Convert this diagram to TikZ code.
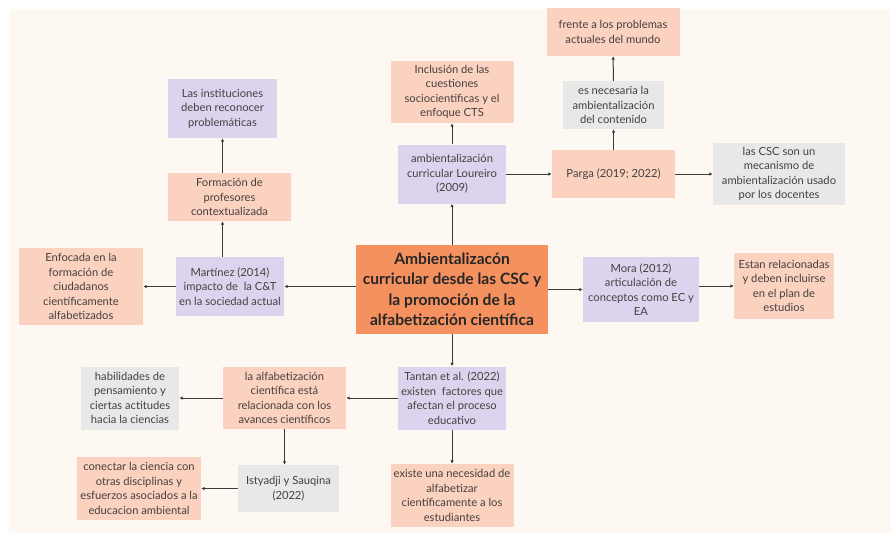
\documentclass[tikz,border=0pt]{standalone}
\usepackage{fontspec}
\setmainfont{Lato}
\usetikzlibrary{arrows.meta,calc}
\definecolor{cream}{HTML}{FDF9F2}
\definecolor{peachc}{HTML}{FBD2BF}
\definecolor{purplec}{HTML}{DED3EE}
\definecolor{grayc}{HTML}{E8E8E8}
\definecolor{centerc}{HTML}{F4915F}
\definecolor{txt}{HTML}{46403F}
\definecolor{linec}{HTML}{3A3A3A}
\begin{document}
\begin{tikzpicture}[x=1pt,y=-1pt,
  box/.style={draw=none, align=center, inner sep=1pt, text=txt,
    font=\fontsize{11.2}{14.5}\selectfont},
  peach/.style={box, fill=peachc},
  purp/.style={box, fill=purplec},
  grey/.style={box, fill=grayc},
  conn/.style={draw=linec, line width=1pt, -{Latex[length=3.5pt,width=3.5pt]}}]
\useasboundingbox (0,0) rectangle (891,533);
\fill[white] (0,0) rectangle (891,533);
\fill[cream] (9,9) rectangle (891,533);

\node[box, fill=centerc, text=black!85, font=\fontsize{15.6}{20.5}\selectfont\bfseries,
  minimum width=192pt, minimum height=89pt] (center) at (452,289.5)
  {Ambientalizacón\\curricular desde las CSC y\\la promoción de la\\alfabetización científica};

\node[purp, minimum width=109pt, minimum height=59pt] (inst) at (222.5,108.5)
  {Las instituciones\\deben reconocer\\problemáticas};
\node[peach, minimum width=123pt, minimum height=48pt] (form) at (229.5,197)
  {Formación de\\profesores\\contextualizada};
\node[peach, minimum width=124pt, minimum height=77pt] (enf) at (81,286.5)
  {Enfocada en la\\formación de\\ciudadanos\\científicamente\\alfabetizados};
\node[purp, minimum width=108pt, minimum height=59pt] (mart) at (230,286.5)
  {Martínez (2014)\\impacto de\ \ la C\&T\\en la sociedad actual};

\node[purp, minimum width=116pt, minimum height=65pt] (mora) at (641,289.5)
  {Mora (2012)\\articulación de\\conceptos como EC y\\EA};
\node[peach, minimum width=100pt, minimum height=66pt] (estan) at (784,286)
  {Estan relacionadas\\y deben incluirse\\en el plan de\\estudios};

\node[peach, minimum width=123pt, minimum height=62pt] (incl) at (452,92)
  {Inclusión de las\\cuestiones\\sociocientificas y el\\enfoque CTS};
\node[purp, minimum width=108pt, minimum height=59pt] (lour) at (452,174)
  {ambientalización\\curricular Loureiro\\(2009)};
\node[peach, minimum width=123pt, minimum height=48pt] (parga) at (613.5,174)
  {Parga (2019; 2022)};
\node[grey, minimum width=101pt, minimum height=48pt] (nec) at (613.5,105)
  {es necesaria la\\ambientalización\\del contenido};
\node[peach, minimum width=133pt, minimum height=48pt] (frente) at (613,32)
  {frente a los problemas\\actuales del mundo};
\node[grey, minimum width=132pt, minimum height=62pt] (csc) at (779,174)
  {las CSC son un\\mecanismo de\\ambientalización usado\\por los docentes};

\node[purp, minimum width=108pt, minimum height=63pt] (tantan) at (452,398)
  {Tantan et al. (2022)\\existen\ \ factores que\\afectan el proceso\\educativo};
\node[peach, minimum width=123pt, minimum height=63pt] (existe) at (452,495.5)
  {existe una necesidad de\\alfabetizar\\científicamente a los\\estudiantes};
\node[peach, minimum width=123pt, minimum height=62pt] (alf) at (284.5,398)
  {la alfabetización\\científica está\\relacionada con los\\avances científicos};
\node[grey, minimum width=98pt, minimum height=63pt] (hab) at (130,398)
  {habilidades de\\pensamiento y\\ciertas actitudes\\hacia la ciencias};
\node[grey, minimum width=101pt, minimum height=47pt] (isty) at (288.5,488.5)
  {Istyadji y Sauqina\\(2022)};
\node[peach, minimum width=124pt, minimum height=63pt] (con) at (139,488.5)
  {conectar la ciencia con\\otras disciplinas y\\esfuerzos asociados a la\\educacion ambiental};

% connectors
\draw[conn] (center) -- (lour);
\draw[conn] (lour) -- (incl);
\draw[conn] (lour) -- (parga);
\draw[conn] (parga) -- (nec);
\draw[conn] (nec) -- (frente);
\draw[conn] (parga) -- (csc);
\draw[conn] (center.west |- mart) -- (mart.east);
\draw[conn] (mart) -- (enf);
\draw[conn] (inst |- mart.north) -- (inst |- form.south);
\draw[conn] (inst |- form.north) -- (inst.south);
\draw[conn] (center) -- (mora);
\draw[conn] (mora.east |- estan) -- (estan.west);
\draw[conn] (center) -- (tantan);
\draw[conn] (tantan) -- (alf);
\draw[conn] (alf) -- (hab);
\draw[conn] (alf) -- (alf |- isty.north);
\draw[conn] (isty) -- (con);
\draw[conn] (tantan) -- (existe);
\end{tikzpicture}
\end{document}
